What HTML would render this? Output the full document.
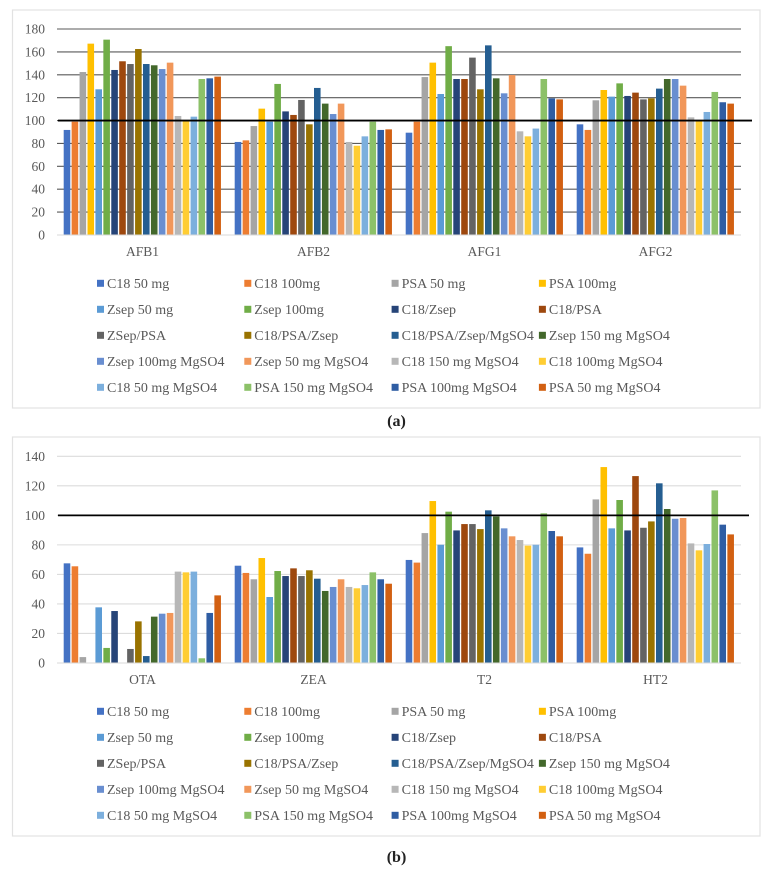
<!DOCTYPE html>
<html lang="en">
<head>
<meta charset="utf-8">
<title>Recovery charts</title>
<style>
html,body{margin:0;padding:0;background:#fff;}
body{width:769px;height:872px;overflow:hidden;position:relative;}
svg{position:absolute;left:0;top:0;display:block;filter:blur(0.35px);}
text{font-family:"Liberation Serif",serif;fill:#595959;}
.cap{font-family:"Liberation Serif",serif;font-size:16px;font-weight:bold;fill:#222;text-anchor:middle;}
</style>
</head>
<body>
<svg id="fig" width="769" height="872" viewBox="0 0 769 872" xmlns="http://www.w3.org/2000/svg">
  <rect x="12.5" y="10" width="747.5" height="398" fill="#fff" stroke="#e2e2e2" stroke-width="1.2"/>
  <rect x="12.5" y="437" width="747.5" height="399" fill="#fff" stroke="#e2e2e2" stroke-width="1.2"/>
  <text class="cap" x="396.5" y="426">(a)</text>
  <text class="cap" x="396.5" y="862">(b)</text>
</svg>
<script>
const seriesNames = ["C18 50 mg","C18 100mg","PSA 50 mg","PSA 100mg","Zsep 50 mg","Zsep 100mg","C18/Zsep","C18/PSA","ZSep/PSA","C18/PSA/Zsep","C18/PSA/Zsep/MgSO4","Zsep 150 mg MgSO4","Zsep 100mg MgSO4","Zsep 50 mg MgSO4","C18 150 mg MgSO4","C18 100mg MgSO4","C18 50 mg MgSO4","PSA 150 mg MgSO4","PSA 100mg MgSO4","PSA 50 mg MgSO4"];
const seriesColors = ["#4472C4","#ED7D31","#A5A5A5","#FFC000","#5B9BD5","#70AD47","#264478","#9E480E","#636363","#997300","#255E91","#43682B","#698ED0","#F1975A","#B7B7B7","#FFCD33","#7CAFDD","#8CC168","#2F5DA3","#D26012"];

const categoriesA = ["AFB1","AFB2","AFG1","AFG2"];
const ticksA = [0,20,40,60,80,100,120,140,160,180];
const afb1Values = [91.8,99,142.4,167.2,127.3,170.7,144.2,151.8,149.4,162.5,149.4,148.3,145,150.6,104,100.5,103.4,136.3,136.9,138.4];
const afb2Values = [81.3,82.7,95.2,110.4,99,132,108,104.9,118,96.7,128.5,114.8,105.7,114.8,81.3,78,86.2,99,91.8,92.3];
const afg1Values = [89.4,99,138,150.6,123.2,165,136.3,136.3,155,127.3,165.7,136.9,123.8,139.8,90.6,86.2,93,136.3,119.4,118.5];
const afg2Values = [96.7,91.8,117.7,126.7,120.9,132.5,121.5,124.4,118.5,119.4,127.9,136.3,136.3,130.5,102.8,99.5,107.5,125,116,114.8];
const valuesA = [afb1Values,afb2Values,afg1Values,afg2Values];

const categoriesB = ["OTA","ZEA","T2","HT2"];
const ticksB = [0,20,40,60,80,100,120,140];
const otaValues = [67.5,65.5,4,0,37.7,10.2,35.2,0,9.5,28.2,4.7,31.4,33.4,33.9,61.9,61.4,61.9,3.2,33.9,45.8];
const zeaValues = [65.9,61,56.7,71.1,44.7,62.3,58.9,64.1,58.9,62.8,57.1,48.8,51.5,56.7,51.5,50.6,52.8,61.4,56.7,53.7];
const t2Values = [69.8,68,88,109.7,80.1,102.5,89.8,94.1,94.1,90.7,103.4,99.3,91.2,85.8,83.3,79.5,80.1,101.4,89.4,85.8];
const ht2Values = [78.3,74,110.8,132.7,91.2,110.4,89.8,126.6,91.6,95.9,121.7,104.3,97.7,98.2,81,76.3,80.6,116.9,93.7,87.1];
const valuesB = [otaValues,zeaValues,t2Values,ht2Values];

const referenceValue = 100;

const NS = "http://www.w3.org/2000/svg";
const fig = document.getElementById("fig");

function make(tag, attrs, text) {
  const el = document.createElementNS(NS, tag);
  for (const k in attrs) el.setAttribute(k, attrs[k]);
  if (text !== undefined) el.textContent = text;
  fig.appendChild(el);
  return el;
}

function drawChart(cfg) {
  const yScale = v => cfg.y0 - (v / cfg.yMax) * (cfg.y0 - cfg.yTop);
  const bandW = (cfg.xEnd - cfg.xStart) / cfg.categories.length;
  const step = (bandW - 12.4) / seriesNames.length;
  const xBar = (c, s) => cfg.xStart + c * bandW + 6.7 + s * step;

  cfg.ticks.forEach(t => {
    const y = yScale(t);
    if (t !== 0) {
      const grid = make("line", {x1: cfg.xStart, x2: cfg.xEnd, y1: y, y2: y, stroke: cfg.gridColor, "stroke-width": 1.1});
      
      
    }
    const label = make("text", {x: 45, y: y + 4.5, "text-anchor": "end", "font-size": 13.5}, String(t));
    
    
  });

  cfg.values.forEach((groupValues, c) => {
    groupValues.forEach((v, s) => {
      if (v <= 0) return;
      const bar = make("rect", {x: xBar(c, s), y: yScale(v), width: step - 1.35, height: cfg.y0 - yScale(v), fill: seriesColors[s]});
      
      
    });
    const cat = make("text", {x: cfg.xStart + (c + 0.5) * bandW, y: cfg.y0 + 21, "text-anchor": "middle", "font-size": 13.5}, cfg.categories[c]);
    
    
  });

  const axis = make("line", {x1: cfg.xStart, x2: cfg.xEnd, y1: cfg.y0, y2: cfg.y0, stroke: "#d9d9d9", "stroke-width": 1.1});
  
  

  const ref = make("line", {x1: cfg.xStart + 1, x2: cfg.refEnd, y1: yScale(referenceValue), y2: yScale(referenceValue), stroke: "#000", "stroke-width": 1.8});
  
  

  seriesNames.forEach((name, i) => {
    const col = i % 4;
    const row = Math.floor(i / 4);
    const cx = 97 + col * 147.3;
    const cy = cfg.legendY + row * cfg.legendStep;
    const sw = make("rect", {x: cx, y: cy - 3.5, width: 7, height: 7, fill: seriesColors[i]});
    
    
    const lab = make("text", {x: cx + 10, y: cy + 4.5, "font-size": 14}, name);
    
    
  });
}

drawChart({id: "chart-a", categories: categoriesA, values: valuesA, ticks: ticksA, yMax: 180, y0: 235, yTop: 29, xStart: 57, xEnd: 741, refEnd: 752, gridColor: "#5a5a5a", legendY: 283.3, legendStep: 26});
drawChart({id: "chart-b", categories: categoriesB, values: valuesB, ticks: ticksB, yMax: 140, y0: 663, yTop: 456.3, xStart: 57, xEnd: 741, refEnd: 749, gridColor: "#dcdcdc", legendY: 711.3, legendStep: 26});
</script>
</body>
</html>
